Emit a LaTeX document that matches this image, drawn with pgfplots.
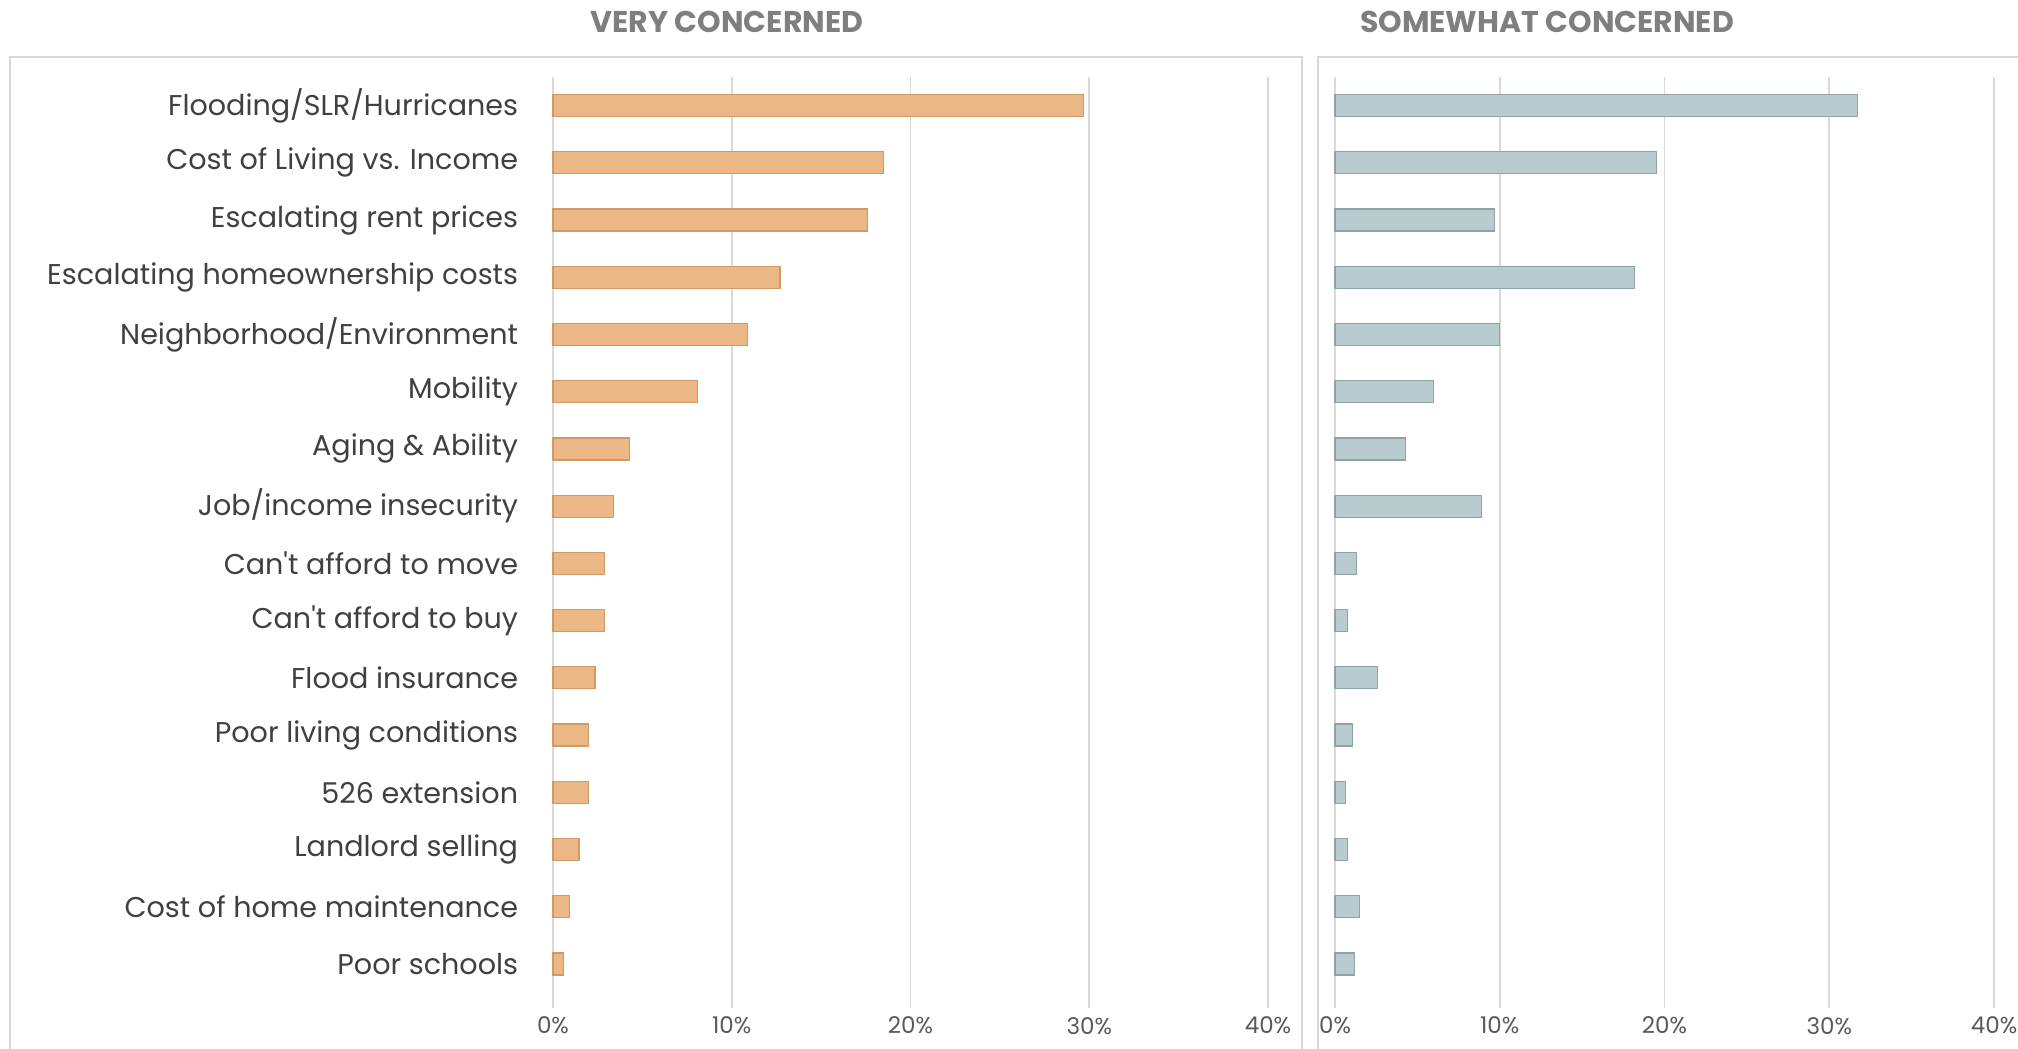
\documentclass[border=0pt]{standalone}
\usepackage{pgfplots}
\pgfplotsset{compat=1.18}
\usepackage{fontspec}
\setmainfont{Poppins}
\definecolor{barO}{HTML}{EBB784}
\definecolor{barOd}{HTML}{CF9A66}
\definecolor{barB}{HTML}{B8CBCE}
\definecolor{barBd}{HTML}{8FA2A5}
\definecolor{gridc}{HTML}{D9D9D9}
\definecolor{framec}{HTML}{D3DADD}
\definecolor{labc}{HTML}{404040}
\definecolor{tickc}{HTML}{595959}
\definecolor{titc}{HTML}{7F7F7F}
\pgfplotsset{
  base/.style={
    anchor=south west,
    scale only axis,
    height=465.5pt,
    xbar, bar width=11pt,
    xmin=0, xmax=40, ymin=-0.77, ymax=15.5,
    xtick={0,10,20,30,40},
    xticklabels={0\%,10\%,20\%,30\%,40\%},
    xmajorgrids, grid style={gridc, line width=0.8pt},
    axis line style={draw=none},
    tick style={draw=none},
    ytick={0,...,15},
    xticklabel style={font=\fontsize{11.5}{13}\selectfont, text=tickc, yshift=-1pt},
    /pgf/number format/assume math mode=true,
    clip=false,
  }
}
\begin{document}
\begin{tikzpicture}
\path[use as bounding box] (0pt,0pt) rectangle (1009pt,524.5pt);
\draw[framec, line width=1pt] (5pt,-5pt) -- (5pt,496pt) -- (651pt,496pt) -- (651pt,-5pt);
\draw[framec, line width=1pt] (659pt,-5pt) -- (659pt,496pt) -- (1015pt,496pt);
\node[font=\fontsize{15}{17}\selectfont\bfseries, text=titc] at (363.5pt,513.5pt) {VERY CONCERNED};
\node[font=\fontsize{15}{17}\selectfont\bfseries, text=titc] at (773.5pt,513.5pt) {SOMEWHAT CONCERNED};
\begin{axis}[base, at={(276.5pt,20.5pt)}, width=357.5pt,
  yticklabels={Poor schools, Cost of home maintenance, Landlord selling, 526 extension, Poor living conditions, Flood insurance, Can\textquotesingle t afford to buy, Can\textquotesingle t afford to move, Job/income insecurity, Aging \& Ability, Mobility, Neighborhood/Environment, Escalating homeownership costs, Escalating rent prices, Cost of Living vs. Income, Flooding/SLR/Hurricanes},
  yticklabel style={font=\fontsize{14.3}{16}\selectfont, text=labc, anchor=east, inner sep=0pt, xshift=-13pt},
]
\addplot[fill=barO, draw=barOd, line width=0.6pt] coordinates {
(0.58,0) (0.94,1) (1.45,2) (2.0,3) (2.0,4) (2.35,5) (2.9,6) (2.9,7) (3.4,8) (4.3,9) (8.1,10) (10.9,11) (12.7,12) (17.6,13) (18.5,14) (29.7,15)};
\end{axis}
\begin{axis}[base, at={(667.5pt,20.5pt)}, width=329.5pt, yticklabels={}]
\addplot[fill=barB, draw=barBd, line width=0.6pt] coordinates {
(1.2,0) (1.49,1) (0.77,2) (0.63,3) (1.05,4) (2.6,5) (0.77,6) (1.3,7) (8.9,8) (4.3,9) (6.0,10) (10.0,11) (18.2,12) (9.7,13) (19.5,14) (31.7,15)};
\end{axis}
\end{tikzpicture}
\end{document}
